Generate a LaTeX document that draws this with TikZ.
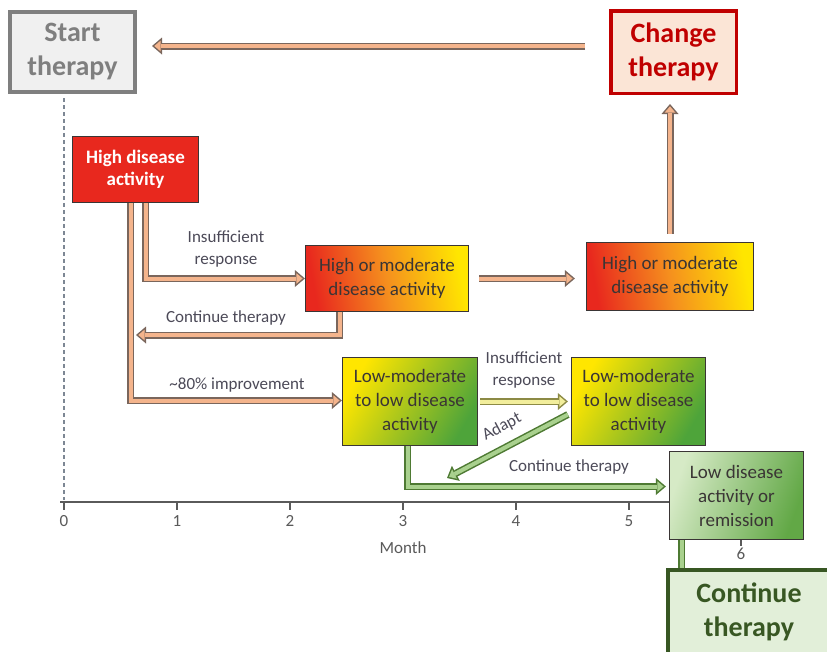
\documentclass[tikz,border=0pt]{standalone}
\usepackage{fontspec}
\setmainfont{Carlito}
\usepackage{xcolor}
\usepackage{tikz}
\usetikzlibrary{arrows.meta,positioning,calc}
\definecolor{ttgris}{HTML}{7F7F7F}
\definecolor{ttgrispale}{HTML}{F0F0F0}
\definecolor{ttrouge}{HTML}{C00000}
\definecolor{ttrosepale}{HTML}{FBE5D6}
\definecolor{ttrougevif}{HTML}{E8281E}
\definecolor{ttorange}{HTML}{F5901E}
\definecolor{ttjaune}{HTML}{FFE600}
\definecolor{ttvert}{HTML}{4EA43A}
\definecolor{ttvertclair}{HTML}{D6EAC6}
\definecolor{ttvertmoyen}{HTML}{62A846}
\definecolor{ttvertpale}{HTML}{E2EFD9}
\definecolor{ttvertfonce}{HTML}{385723}
\definecolor{ttpeche}{HTML}{F4B48C}
\definecolor{ttbrun}{HTML}{7A665C}
\definecolor{tttige}{HTML}{A9D18E}
\definecolor{tttigebord}{HTML}{4E7A33}
\definecolor{ttpaille}{HTML}{F2EE9C}
\definecolor{ttpaillebord}{HTML}{8C8A45}
\definecolor{ttencre}{HTML}{3A3535}
\definecolor{ttlegende}{HTML}{4C4A58}
\definecolor{ttaxe}{HTML}{5A5A5A}
\definecolor{tttirets}{HTML}{7D8794}

\tikzset{
  pipe/.style 2 args={draw=#1, line width=7pt, -{Triangle[length=10pt,width=17pt,line width=0pt]},
    postaction={draw=#2, line width=4pt, shorten >=2.3pt, -{Triangle[length=6.2pt,width=10.5pt,line width=0pt]}}},
  tige/.style 2 args={draw=#1, line width=7pt, postaction={draw=#2, line width=4pt}},
  peche/.style={pipe={ttbrun}{ttpeche}},
  verte/.style={pipe={tttigebord}{tttige}},
  paille/.style={pipe={ttpaillebord}{ttpaille}},
  boite/.style={draw=ttencre, line width=1.2pt, inner sep=0pt, align=center, text=ttencre,
    font=\fontsize{19}{24}\selectfont},
  grosse/.style={line width=4pt, inner sep=0pt, align=center, font=\fontsize{28}{34}\selectfont\bfseries},
  legende/.style={ttlegende, align=center, font=\fontsize{17}{22}\selectfont},
  chiffre/.style={ttaxe, font=\fontsize{17}{20}\selectfont},
}

\begin{document}
\begin{tikzpicture}[x=1pt,y=-1pt]
  \useasboundingbox[fill=white] (0,0) rectangle (827,651);
  % axe des mois
  \draw[tttirets,line width=1.5pt,dash pattern=on 4pt off 3pt] (64,98) -- (64,500);
  \draw[ttaxe,line width=2pt] (60,502) -- (680,502);
  \foreach \m in {0,...,5} {
    \draw[ttaxe,line width=1.5pt] (64+113*\m,502) -- ++(0,8);
    \node[chiffre] (m\m) at (64+113*\m,521) {\m};
  }
  \draw[ttaxe,line width=1.5pt] (741,540) -- (741,546);
  \node[chiffre] (m6) at (741,554) {6};
  \node[chiffre] (mois) at (403,548) {Month};

  % boites
  \node[grosse, draw=ttgris, fill=ttgrispale, text=ttgris, minimum width=125, minimum height=80]
    (start) at (72.5,52) {Start\\therapy};
  \node[grosse, line width=3.5pt, draw=ttrouge, fill=ttrosepale, text=ttrouge, minimum width=125.5, minimum height=82.5]
    (change) at (673.5,52) {Change\\therapy};
  \node[boite, fill=ttrougevif, text=white, font=\fontsize{19}{22}\selectfont\bfseries, minimum width=126, minimum height=66]
    (high) at (135.5,169.5) {High disease\\activity};
  \node[boite, top color=ttrougevif, bottom color=ttjaune, middle color=ttorange, shading angle=100,
    minimum width=163, minimum height=66] (hm1) at (387,278.5) {High or moderate\\disease activity};
  \node[boite, top color=ttrougevif, bottom color=ttjaune, middle color=ttorange, shading angle=100,
    minimum width=167, minimum height=68] (hm2) at (670,276.5) {High or moderate\\disease activity};
  \node[boite, top color=ttjaune, bottom color=ttvert, shading angle=60, minimum width=135, minimum height=88]
    (lm1) at (410,401.5) {Low-moderate\\to low disease\\activity};
  \node[boite, top color=ttjaune, bottom color=ttvert, shading angle=60, minimum width=134, minimum height=88]
    (lm2) at (638.5,401.5) {Low-moderate\\to low disease\\activity};
  \node[boite, top color=ttvertclair, bottom color=ttvertmoyen, shading angle=70, minimum width=134, minimum height=88]
    (low) at (736.5,495.5) {Low disease\\activity or\\remission};
  \node[grosse, draw=ttvertfonce, fill=ttvertpale, text=ttvertfonce, minimum width=162, minimum height=84]
    (cont) at (749,612) {Continue\\therapy};

  % fleches
  \draw[peche] ([xshift=-24pt,yshift=6pt]change.west) -- ([xshift=15pt,yshift=6pt]start.east);
  \draw[peche] ([yshift=8pt]hm2.north) -- ([yshift=-9pt]hm2.north |- change.south);
  \draw[peche] ([xshift=10pt]hm1.east) -- ([xshift=-11pt]hm1.east -| hm2.west);
  \draw[peche] ([xshift=59pt]high.south west) |- ([yshift=1pt]lm1.west);
  \draw[peche] ([xshift=74pt]high.south west) |- (hm1.west);
  \coordinate (retour) at (136,335);
  \draw[peche] ([xshift=35pt]hm1.south west) |- (retour);
  \draw[paille] ([xshift=2pt]lm1.east) -- ([xshift=-3pt]lm2.west);
  \coordinate (adapte) at (447,478);
  \draw[verte] ([xshift=-3pt,yshift=-13pt]lm2.west) -- (adapte);
  \draw[verte] ([xshift=66pt]lm1.south west) |- ([xshift=-3pt,yshift=9pt]low.west);
  \draw[tige={tttigebord}{tttige}] ([xshift=13pt]low.south west) -- ([xshift=13pt]low.south west |- cont.north);

  % legendes
  \node[legende] (insuf1) at (226,249) {Insufficient\\response};
  \node[legende] (cont1) at (226,318) {Continue therapy};
  \node[legende] (amelio) at (237,385) {\textasciitilde80\% improvement};
  \node[legende] (insuf2) at (524,370) {Insufficient\\response};
  \node[legende,rotate=28,inner sep=1pt] (adapt) at (502,427) {Adapt};
  \node[legende] (cont2) at (569,467) {Continue therapy};
\end{tikzpicture}
\end{document}
